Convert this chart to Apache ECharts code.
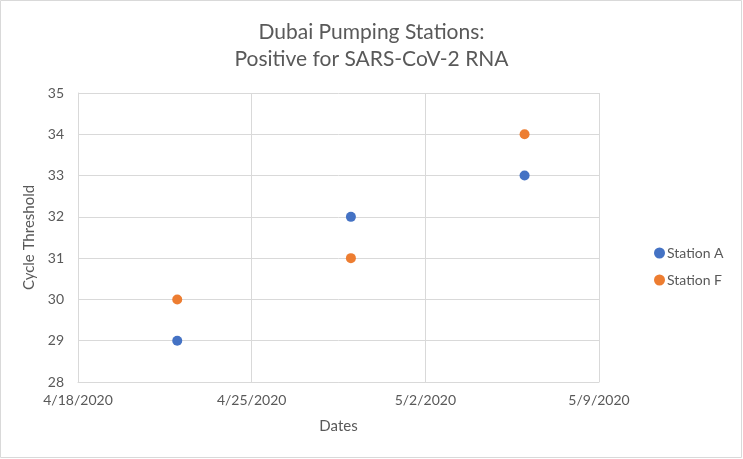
<!DOCTYPE html>
<html><head><meta charset="utf-8">
<script src="https://cdn.jsdelivr.net/npm/echarts@6/dist/echarts.min.js"></script>
<style>html,body{margin:0;padding:0;background:#fff}#c{width:743px;height:459px}</style>
</head><body><div id="c"></div>
<script>
var titleLines = ['Dubai Pumping Stations:', 'Positive for SARS-CoV-2 RNA'];
var xAxisName = 'Dates';
var yAxisName = 'Cycle Threshold';
var startDate = '2020-04-18';
var endDate = '2020-05-09';
var dates = ['2020-04-22', '2020-04-29', '2020-05-06'];
var seriesNames = ['Station A', 'Station F'];
var stationA = [29, 32, 33];
var stationF = [30, 31, 34];
var yMin = 28, yMax = 35;

function dayNum(s){ var p = s.split('-'); return Date.UTC(+p[0], +p[1]-1, +p[2]) / 86400000; }
var d0 = dayNum(startDate);
function off(s){ return dayNum(s) - d0; }
function fmt(v){ var d = new Date((d0 + v) * 86400000); return (d.getUTCMonth()+1) + '/' + d.getUTCDate() + '/' + d.getUTCFullYear(); }

var font = 'Lato';
var txt = '#595959';
var chart = echarts.init(document.getElementById('c'));
chart.setOption({
  animation: false,
  textStyle: {fontFamily: font},
  title: {text: titleLines.join('\n'), left: 'center', top: 14,
    textStyle: {fontFamily: font, fontSize: 21, fontWeight: 'normal', color: txt, lineHeight: 27}},
  legend: {orient: 'vertical', left: 649, top: 241, itemGap: 13, itemWidth: 11, itemHeight: 11, icon: 'circle',
    textStyle: {fontFamily: font, fontSize: 14, color: txt, padding: [0,0,0,-3]}, data: seriesNames},
  grid: {left: 78, right: 144, top: 93, bottom: 77},
  xAxis: {type: 'value', min: 0, max: off(endDate), interval: 7,
    name: xAxisName, nameLocation: 'middle', nameGap: 37,
    nameTextStyle: {fontFamily: font, fontSize: 15, color: txt},
    axisLine: {show: true, lineStyle: {color: '#d9d9d9'}}, axisTick: {show: false},
    axisLabel: {formatter: fmt, color: txt, fontSize: 14, margin: 11},
    splitLine: {show: true, lineStyle: {color: '#d9d9d9'}}},
  yAxis: {type: 'value', min: yMin, max: yMax, interval: 1,
    name: yAxisName, nameLocation: 'middle', nameGap: 34,
    nameTextStyle: {fontFamily: font, fontSize: 15, color: txt},
    axisLine: {show: true, lineStyle: {color: '#d9d9d9'}}, axisTick: {show: false},
    axisLabel: {color: txt, fontSize: 14, margin: 14},
    splitLine: {show: true, lineStyle: {color: '#d9d9d9'}}},
  graphic: [{type: 'rect', shape: {x: 0.5, y: 0.5, width: 741, height: 457}, style: {fill: 'none', stroke: '#d9d9d9', lineWidth: 1}, silent: true}],
  series: [
    {name: seriesNames[0], type: 'scatter', symbolSize: 10, itemStyle: {color: '#4472C4', opacity: 1},
     data: dates.map(function(d,i){ return [off(d), stationA[i]]; })},
    {name: seriesNames[1], type: 'scatter', symbolSize: 10, itemStyle: {color: '#ED7D31', opacity: 1},
     data: dates.map(function(d,i){ return [off(d), stationF[i]]; })}
  ]
});
</script></body></html>
